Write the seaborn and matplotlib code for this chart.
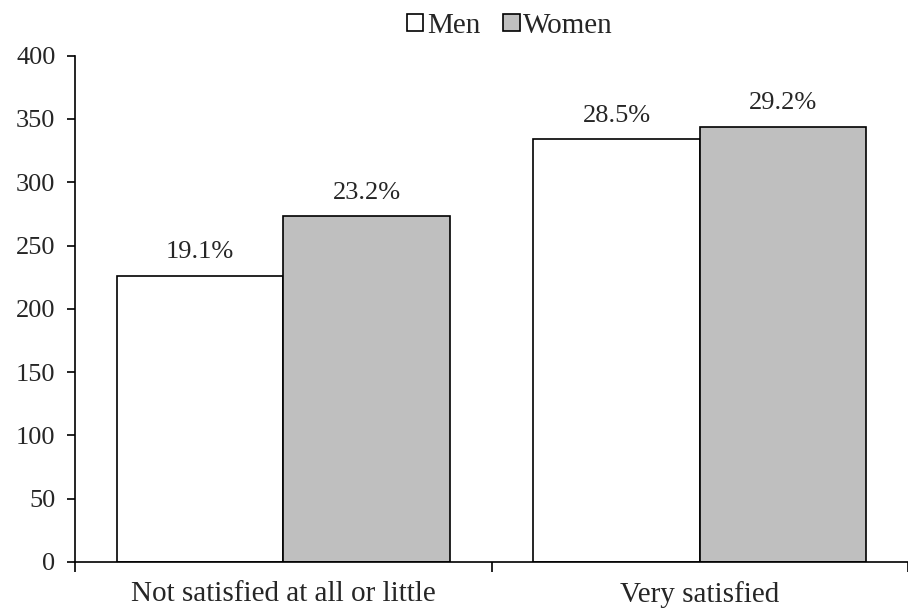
"""Bar chart: satisfaction by sex, counts with percentage labels."""

import pandas as pd
import seaborn as sns
import matplotlib.pyplot as plt

categories = ['Not satisfied at all or little', 'Very satisfied']
men_counts = [226, 334]
women_counts = [273, 344]
men_pct = ['19.1%', '28.5%']
women_pct = ['23.2%', '29.2%']
y_ticks = [0, 50, 100, 150, 200, 250, 300, 350, 400]


def build_frame():
    rows = []
    for cat, m, w in zip(categories, men_counts, women_counts):
        rows.append({'Category': cat, 'Sex': 'Men', 'Count': m})
        rows.append({'Category': cat, 'Sex': 'Women', 'Count': w})
    return pd.DataFrame(rows)


def main():
    sns.set_theme(style='white')
    plt.rcParams['font.family'] = ['Liberation Serif', 'DejaVu Serif']

    df = build_frame()
    fig = plt.figure(figsize=(9.08, 6.10), dpi=100)
    ax = fig.add_axes([0.0826, 0.0787, 0.9174, 0.83])

    sns.barplot(
        data=df, x='Category', y='Count', hue='Sex',
        order=categories, hue_order=['Men', 'Women'],
        palette=['white', '#bfbfbf'], edgecolor='black', linewidth=1.2,
        width=0.8, ax=ax, legend=True
    )

    # percentage labels above bars
    for container, labels in zip(ax.containers, [men_pct, women_pct]):
        ax.bar_label(container, labels=labels, padding=9, fontsize=19)

    ax.set_ylim(0, 400)
    ax.set_yticks(y_ticks)
    ax.set_xlim(-0.5, 1.474)
    ax.set_xlabel('')
    ax.set_ylabel('')

    # ticks at category boundaries, labels centered
    ax.set_xticks([-0.5, 0.5, 1.5], minor=True)
    ax.tick_params(axis='x', which='major', length=0, pad=14, labelsize=21)
    ax.tick_params(axis='x', which='minor', direction='out', length=7,
                   width=1.2, color='black', bottom=True)
    ax.tick_params(axis='y', direction='out', length=6, width=1.2,
                   color='black', left=True, labelsize=19, pad=8)

    for side in ['top', 'right']:
        ax.spines[side].set_visible(False)
    for side in ['left', 'bottom']:
        ax.spines[side].set_color('black')
        ax.spines[side].set_linewidth(1.2)

    handles, labels = ax.get_legend_handles_labels()
    ax.legend(
        handles, labels, ncol=2, frameon=False, fontsize=21,
        loc='center', bbox_to_anchor=(510 / 908, 1 - 26 / 610),
        bbox_transform=fig.transFigure,
        handlelength=0.55, handleheight=0.55, handletextpad=0.12,
        columnspacing=0.8, borderaxespad=0
    )

    fig.savefig('out.png', dpi=100, facecolor='white')
    plt.close(fig)


if __name__ == '__main__':
    main()
